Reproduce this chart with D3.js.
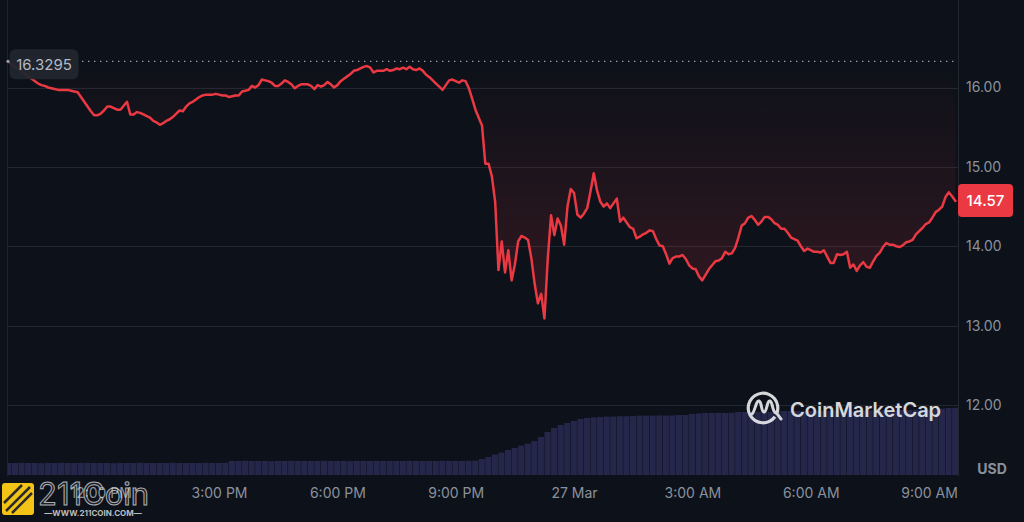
<!DOCTYPE html>
<html><head><meta charset="utf-8">
<script src="https://cdn.jsdelivr.net/npm/d3@7"></script>
<style>
html,body{margin:0;padding:0;background:#0d1119;}
svg{display:block;font-family:Inter,"Noto Sans",sans-serif;}
</style>
</head><body>
<svg id="chart" width="1024" height="522"></svg>
<script>
// ---------- data ----------
const priceStart = "2023-03-26T09:40:00";
const priceStepMinutes = 5;
const prices = [
16.33,16.29,16.26,16.23,16.20,16.17,16.14,16.11,16.08,16.05,16.03,16.02,
16.00,15.99,15.98,15.97,15.97,15.97,15.97,15.96,15.95,15.94,15.88,15.82,
15.76,15.70,15.65,15.65,15.67,15.71,15.76,15.76,15.74,15.72,15.72,15.77,
15.82,15.66,15.66,15.69,15.68,15.66,15.64,15.62,15.58,15.56,15.53,15.55,
15.58,15.60,15.63,15.67,15.71,15.70,15.76,15.80,15.82,15.85,15.88,15.90,
15.91,15.91,15.91,15.92,15.91,15.90,15.90,15.88,15.89,15.90,15.90,15.95,
15.96,15.97,16.02,16.00,16.03,16.10,16.09,16.08,16.06,16.02,16.02,16.05,
16.09,16.07,16.04,15.99,16.02,16.04,16.04,16.04,16.02,15.98,16.03,16.01,
16.03,16.07,16.04,16.00,16.03,16.08,16.11,16.14,16.17,16.21,16.22,16.24,
16.26,16.27,16.25,16.19,16.21,16.21,16.21,16.23,16.21,16.22,16.24,16.23,
16.25,16.23,16.26,16.23,16.22,16.24,16.21,16.16,16.13,16.09,16.05,16.01,
15.97,16.03,16.09,16.10,16.08,16.06,16.09,16.08,15.99,15.86,15.72,15.62,
15.52,15.04,15.04,14.88,14.56,13.70,14.06,13.67,13.95,13.57,13.77,14.06,
14.13,14.11,14.08,13.85,13.53,13.28,13.40,13.09,13.84,14.39,14.14,14.35,
14.26,14.02,14.50,14.72,14.67,14.40,14.36,14.41,14.48,14.69,14.92,14.70,
14.56,14.50,14.54,14.48,14.54,14.60,14.31,14.36,14.30,14.24,14.22,14.10,
14.12,14.15,14.17,14.20,14.19,14.09,14.01,14.00,13.90,13.78,13.85,13.87,
13.87,13.89,13.84,13.76,13.72,13.71,13.62,13.57,13.64,13.71,13.76,13.81,
13.82,13.85,13.93,13.90,13.91,13.98,14.11,14.26,14.29,14.36,14.38,14.33,
14.27,14.31,14.37,14.37,14.34,14.29,14.27,14.22,14.22,14.17,14.11,14.09,
14.07,14.00,13.94,13.97,13.95,13.93,13.93,13.92,13.95,13.87,13.79,13.79,
13.90,13.89,13.90,13.93,13.73,13.77,13.69,13.76,13.80,13.74,13.73,13.81,
13.88,13.92,13.99,14.04,14.02,14.02,14.00,13.99,14.01,14.05,14.06,14.08,
14.15,14.19,14.23,14.28,14.30,14.36,14.43,14.46,14.50,14.62,14.68,14.63,
14.57
];
const volumeStart = "2023-03-26T09:40:00";
const volumeStepMinutes = 10;
const volumes = [
60,60,61,60,60,59,60,60,61,60,60,60,61,60,60,60,59,60,60,60,61,60,60,60,60,61,60,60,60,60,61,60,60,61,
70,70,71,70,70,70,69,70,70,71,70,70,70,70,71,70,70,70,69,70,70,70,71,70,70,70,70,71,70,70,70,70,71,70,70,70,71,72,
80,90,102,112,125,135,147,157,170,190,215,235,250,260,270,280,285,288,290,
292,292,294,294,295,
297,297,297,298,297,298,
300,300,305,308,
310,310,311,310,311,
315,315,316,315,316,316,
320,320,320,321,320,320,321,320,321,
322,322,323,322,322,323,322,323,322,323,
325,325,326,325,326,
330,332,335,336
];
const openPrice = 16.3295;
const openLabel = "16.3295";
const lastLabel = "14.57";
const yTicks = [12, 13, 14, 15, 16];
const xTickTimes = ["2023-03-26T12:00:00","2023-03-26T15:00:00","2023-03-26T18:00:00","2023-03-26T21:00:00",
                    "2023-03-27T00:00:00","2023-03-27T03:00:00","2023-03-27T06:00:00","2023-03-27T09:00:00"];
const xTickLabels = ["12:00 PM","3:00 PM","6:00 PM","9:00 PM","27 Mar","3:00 AM","6:00 AM","9:00 AM"];
const unitLabel = "USD";
const brandLabel = "CoinMarketCap";

// ---------- setup ----------
const W = 1024, H = 522;
const left = 8, right = 958;
const RED = "#ea3943";
const AXIS_TXT = "#8a919e";
const svg = d3.select("#chart");
svg.append("rect").attr("width", W).attr("height", H).attr("fill", "#0d1119");

const parse = s => new Date(s);
const x = d3.scaleTime()
  .domain([parse("2023-03-26T09:39:00"), parse("2023-03-27T09:44:00")])
  .range([left, right]);
const y = d3.scaleLinear().domain([12, 16]).range([405, 87.5]);
const v = d3.scaleLinear().domain([0, 500]).range([475, 375]);

const p0 = parse(priceStart);
const priceData = prices.map((p, i) => ({ t: d3.timeMinute.offset(p0, i * priceStepMinutes), p }));
const v0 = parse(volumeStart);
const volData = volumes.map((val, i) => ({ t: d3.timeMinute.offset(v0, i * volumeStepMinutes), val }));

const defs = svg.append("defs");
defs.append("clipPath").attr("id", "plotClip").append("rect")
  .attr("x", left).attr("y", 0).attr("width", right - left).attr("height", 480);
const grad = defs.append("linearGradient").attr("id", "redFill")
  .attr("gradientUnits", "userSpaceOnUse")
  .attr("x1", 0).attr("x2", 0).attr("y1", y(openPrice)).attr("y2", y(13));
grad.append("stop").attr("offset", 0).attr("stop-color", RED).attr("stop-opacity", 0);
grad.append("stop").attr("offset", 1).attr("stop-color", RED).attr("stop-opacity", 0.18);

// gridlines
svg.append("g").selectAll("line").data(yTicks).join("line")
  .attr("x1", left).attr("x2", right)
  .attr("y1", d => Math.round(y(d)) + 0.5).attr("y2", d => Math.round(y(d)) + 0.5)
  .attr("stroke", "#232730").attr("stroke-width", 1);

// frame lines
svg.append("line").attr("x1", 7.5).attr("x2", 7.5).attr("y1", 0).attr("y2", 476)
  .attr("stroke", "#1f232b");
svg.append("line").attr("x1", right + 0.5).attr("x2", right + 0.5).attr("y1", 0).attr("y2", 476)
  .attr("stroke", "#232730");

// volume bars
const vStep = x(d3.timeMinute.offset(v0, volumeStepMinutes)) - x(v0);
svg.append("g").attr("clip-path", "url(#plotClip)").selectAll("rect").data(volData).join("rect")
  .attr("x", d => x(d.t) - vStep / 2)
  .attr("width", vStep - 0.5)
  .attr("y", d => v(d.val))
  .attr("height", d => v(0) - v(d.val))
  .attr("fill", "#24274a");

// red area between open price and line
svg.append("path").datum(priceData)
  .attr("d", d3.area().x(d => x(d.t)).y0(y(openPrice)).y1(d => y(d.p)))
  .attr("fill", "url(#redFill)");

// dotted open price line
svg.append("line")
  .attr("x1", 82).attr("x2", right).attr("y1", y(openPrice)).attr("y2", y(openPrice))
  .attr("stroke", "#9aa0ab").attr("stroke-width", 1.4).attr("stroke-dasharray", "1.4,4.6");

// price line
svg.append("path").datum(priceData)
  .attr("d", d3.line().x(d => x(d.t)).y(d => y(d.p)))
  .attr("fill", "none").attr("stroke", RED).attr("stroke-width", 2.5)
  .attr("stroke-linejoin", "round").attr("stroke-linecap", "round");

// open price label
svg.append("circle").attr("cx", 8).attr("cy", y(openPrice)).attr("r", 1.6).attr("fill", "#9aa0ab");
svg.append("rect").attr("x", 9.5).attr("y", y(openPrice) - 12).attr("width", 69).attr("height", 30)
  .attr("rx", 6).attr("fill", "#22262e").attr("opacity", 0.95);
svg.append("text").attr("x", 44).attr("y", y(openPrice) + 3).attr("dy", "0.35em")
  .attr("text-anchor", "middle").attr("font-size", 15).attr("fill", "#b4b9c3").text(openLabel);

// right axis
const yAxis = d3.axisRight(y).tickValues(yTicks).tickFormat(d3.format(".2f")).tickSize(0).tickPadding(8);
const gy = svg.append("g").attr("transform", `translate(${right},0)`).call(yAxis);
gy.select(".domain").remove();
gy.selectAll("text").attr("fill", AXIS_TXT).attr("font-size", 14).attr("font-family", "Inter, sans-serif");

// bottom axis
const xAxis = d3.axisBottom(x).tickValues(xTickTimes.map(parse))
  .tickFormat((d, i) => xTickLabels[i]).tickSize(0).tickPadding(0);
const gx = svg.append("g").attr("transform", "translate(0,488)").call(xAxis);
gx.select(".domain").remove();
gx.selectAll("text").attr("fill", AXIS_TXT).attr("font-size", 14).attr("font-family", "Inter, sans-serif")
  .attr("dy", "0.71em");

// USD
svg.append("text").attr("x", 992).attr("y", 474).attr("text-anchor", "middle")
  .attr("font-size", 14).attr("font-weight", 700).attr("fill", AXIS_TXT).text(unitLabel);

// last price tag
const lastY = y(prices[prices.length - 1]);
svg.append("rect").attr("x", right).attr("y", lastY - 17).attr("width", 55).attr("height", 33)
  .attr("rx", 4).attr("fill", RED);
svg.append("text").attr("x", right + 27.5).attr("y", lastY).attr("dy", "0.35em")
  .attr("text-anchor", "middle").attr("font-size", 15).attr("font-weight", 500)
  .attr("fill", "#ffffff").text(lastLabel);

// CoinMarketCap watermark
const logo = svg.append("g").attr("opacity", 0.92);
logo.append("path")
  .attr("d", d3.arc()({ innerRadius: 13.2, outerRadius: 16.4, startAngle: 2.2, endAngle: 2 * Math.PI + 1.9 }))
  .attr("transform", "translate(763,408)").attr("fill", "#e6e8ec");
logo.append("path")
  .attr("d", "M752,414 C755,412 756,400 759,401 C762,402 761,412 764,412 C767,412 767,400 770,401 C773,402 772,412 776,413 C778,414 780,418 781,419")
  .attr("fill", "none").attr("stroke", "#e6e8ec").attr("stroke-width", 3).attr("stroke-linecap", "round");
logo.append("text").attr("x", 790).attr("y", 417).attr("font-size", 20).attr("font-weight", 600)
  .attr("fill", "#e6e8ec").text(brandLabel);

// 211Coin watermark (overlaps the 12:00 PM label, as in the reference)
const wm = svg.append("g");
wm.append("rect").attr("x", 2).attr("y", 483).attr("width", 32).attr("height", 32).attr("rx", 3).attr("fill", "#f3c316");
wm.append("path").attr("d", "M6,511 L30,487 M12,513 L32,493 M4,503 L22,485")
  .attr("stroke", "#2a2a2a").attr("stroke-width", 2.5);
wm.append("text").attr("x", 38).attr("y", 505).attr("font-size", 31).attr("font-weight", 400)
  .attr("fill", "rgba(255,255,255,0.08)").attr("stroke", "rgba(225,225,225,0.75)").attr("stroke-width", 1)
  .attr("font-family", "Inter, sans-serif").text("211Coin");
wm.append("text").attr("x", 93).attr("y", 515.5).attr("text-anchor", "middle").attr("font-size", 8)
  .attr("font-weight", 700).attr("fill", "#bdbdbd").text("—WWW.211COIN.COM—");
</script>
</body></html>
